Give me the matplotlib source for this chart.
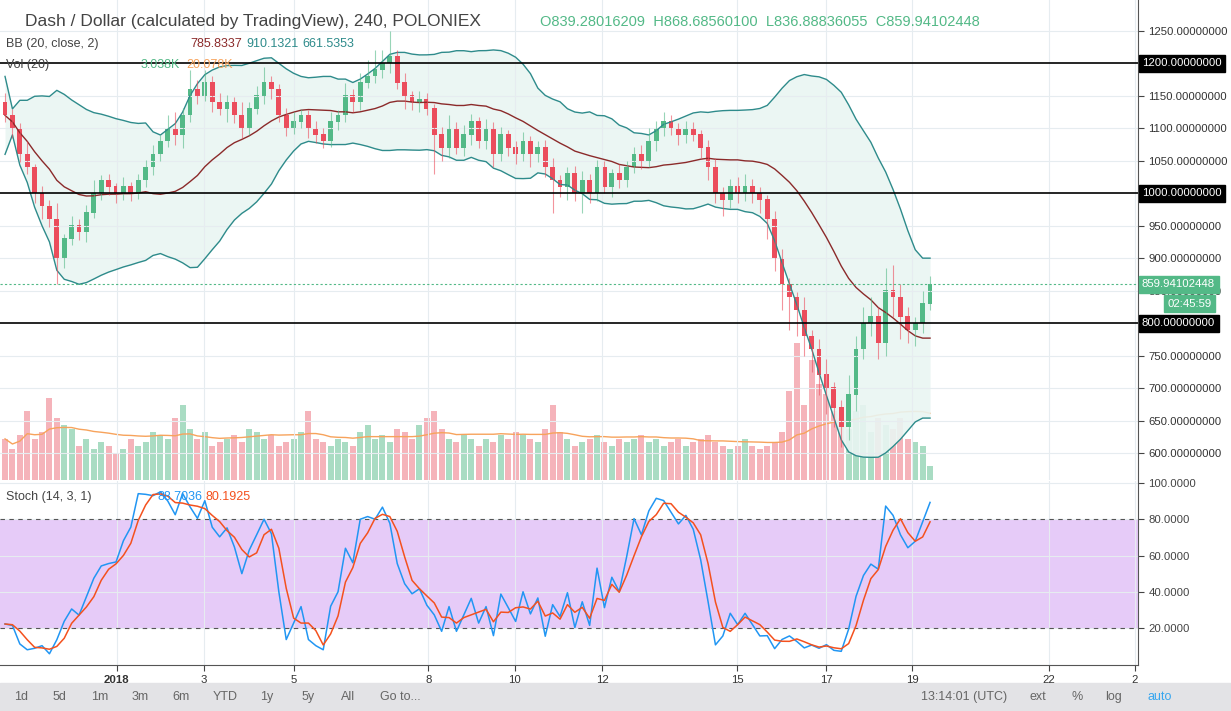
import numpy as np
import pandas as pd
import matplotlib.pyplot as plt

plt.rcParams['font.family'] = 'Liberation Sans'

# 4h closes, Dash / Dollar
closes = [1120, 1100, 1060, 1040, 1000, 980, 960, 900, 930, 950,
          940, 970, 1000, 1020, 1010, 1000, 1010, 1000, 1020, 1040,
          1060, 1080, 1100, 1090, 1120, 1160, 1150, 1170, 1140, 1130,
          1140, 1120, 1100, 1130, 1150, 1170, 1160, 1120, 1100, 1110,
          1120, 1100, 1090, 1080, 1110, 1120, 1150, 1140, 1170, 1180,
          1190, 1200, 1210, 1170, 1150, 1140, 1145, 1130, 1090, 1070,
          1100, 1070, 1090, 1110, 1080, 1100, 1060, 1090, 1070, 1060,
          1080, 1060, 1070, 1040, 1020, 1010, 1030, 1000, 1020, 1000,
          1040, 1010, 1030, 1020, 1040, 1060, 1050, 1080, 1100, 1110,
          1100, 1090, 1100, 1090, 1070, 1040, 1000, 990, 1010, 1000,
          1010, 1000, 990, 960, 900, 860, 840, 820, 780, 760,
          720, 700, 670, 640, 690, 760, 800, 810, 770, 850,
          840, 810, 790, 800, 830, 860]
open0 = 1140
wick_up = [15, 10, 8, 20, 5, 12, 10, 25, 8, 15, 10, 12, 20, 8, 10, 6, 15, 8, 10, 12,
           15, 10, 20, 25, 12, 30, 15, 20, 10, 15, 12, 8, 20, 10, 15, 25, 10, 8, 12, 15,
           10, 8, 12, 10, 15, 8, 20, 10, 15, 25, 30, 20, 40, 10, 15, 8, 12, 10, 8, 12,
           20, 10, 15, 12, 8, 15, 10, 12, 8, 10, 15, 8, 10, 12, 15, 8, 10, 12, 15, 10,
           12, 10, 8, 15, 10, 12, 15, 20, 12, 15, 10, 8, 12, 10, 8, 12, 15, 10, 12, 15,
           20, 12, 10, 8, 12, 15, 10, 8, 20, 10, 15, 25, 10, 12, 30, 20, 25, 30, 15, 35,
           40, 20, 15, 10, 20, 12]
wick_dn = [10, 15, 12, 10, 15, 20, 12, 40, 15, 10, 12, 15, 8, 10, 12, 15, 10, 12, 8, 10,
           12, 10, 8, 15, 20, 10, 12, 8, 15, 10, 20, 12, 15, 10, 8, 12, 15, 10, 12, 8,
           10, 15, 12, 10, 8, 12, 10, 15, 12, 8, 10, 12, 15, 10, 20, 12, 15, 10, 60, 20,
           15, 10, 12, 15, 10, 12, 20, 10, 12, 15, 10, 20, 12, 15, 50, 15, 20, 12, 30, 15,
           12, 10, 15, 12, 10, 8, 12, 10, 15, 12, 10, 15, 12, 10, 15, 20, 15, 25, 12, 15,
           12, 15, 20, 30, 20, 40, 50, 40, 30, 35, 30, 40, 30, 30, 20, 25, 15, 20, 25, 20,
           30, 35, 20, 25, 15, 10]
volume = [12, 9, 13, 20, 12, 14, 24, 18, 16, 15, 10, 12, 9, 11, 10, 8, 9, 12, 10, 11,
          14, 13, 12, 18, 22, 15, 12, 14, 10, 11, 12, 13, 11, 15, 14, 12, 13, 10, 11, 12,
          14, 20, 12, 11, 10, 12, 11, 10, 14, 16, 12, 13, 11, 15, 14, 12, 16, 18, 20, 15,
          12, 11, 13, 12, 10, 12, 11, 13, 12, 14, 13, 12, 11, 15, 22, 14, 12, 10, 11, 12,
          13, 11, 10, 12, 11, 12, 13, 11, 12, 10, 11, 12, 10, 11, 12, 13, 11, 10, 9, 10,
          12, 10, 9, 10, 11, 14, 26, 40, 22, 35, 28, 25, 20, 18, 15, 20, 22, 14, 18, 16,
          15, 18, 12, 11, 10, 4]
date_labels = ['2018', '3', '5', '8', '10', '12', '15', '17', '19', '22', '2']
date_pos = [15.1, 26.9, 39.0, 57.2, 68.9, 80.7, 98.9, 111.0, 122.6, 141.1, 152.7]
price_ticks = [600, 650, 700, 750, 850, 900, 950, 1050, 1100, 1150, 1250]
levels = [1200, 1000, 800]
toolbar_left = ['1d', '5d', '1m', '3m', '6m', 'YTD', '1y', '5y', 'All', 'Go to...']
toolbar_right = ['13:14:01 (UTC)', 'ext', '%', 'log', 'auto']

c = np.array(closes, float)
o = np.concatenate([[open0], c[:-1]])
h = np.maximum(o, c) + np.array(wick_up)
l = np.minimum(o, c) - np.array(wick_dn)
idx = np.arange(len(c))

s = pd.Series(c)
basis = s.rolling(20, min_periods=1).mean()
dev = s.rolling(20, min_periods=2).std(ddof=0).fillna(30)
upper, lower = basis + 2 * dev, basis - 2 * dev
vol_ma = pd.Series(volume).rolling(20, min_periods=1).mean()
hh = pd.Series(h).rolling(14, min_periods=1).max()
ll = pd.Series(l).rolling(14, min_periods=1).min()
k = 100 * (s - ll) / (hh - ll)
d = k.rolling(3, min_periods=1).mean()

GREEN, RED = '#53b987', '#eb4d5c'
W, H = 1231, 711
fig = plt.figure(figsize=(W / 100, H / 100), dpi=100)
fig.patch.set_facecolor('white')

def px(x0, y0, x1, y1):
    return [x0 / W, 1 - y1 / H, (x1 - x0) / W, (y1 - y0) / H]

x_lim = (-0.68, 153.1)
ax = fig.add_axes(px(0, 0, 1138, 480))
axv = ax.twinx()
ax.set_zorder(axv.get_zorder() + 1)
ax.patch.set_visible(False)
axv.set_ylim(0, 140)
axv.axis('off')
vcol = ['#a9dcc3' if c[i] >= o[i] else '#f5b3ba' for i in idx]
axv.bar(idx, volume, width=0.8, color=vcol)
axv.plot(idx, vol_ma, color='#f7a35c', lw=1)

ax.fill_between(idx, lower, upper, color='#e9f5f2', alpha=0.9, lw=0)
ax.plot(idx, upper, color='#2e8b8b', lw=1)
ax.plot(idx, lower, color='#2e8b8b', lw=1)
ax.plot(idx, basis, color='#8b2a2a', lw=1)
cols = [GREEN if c[i] >= o[i] else RED for i in idx]
ax.vlines(idx, l, h, colors=cols, lw=0.8, alpha=0.6)
ax.bar(idx, np.abs(c - o) + 1, bottom=np.minimum(o, c), width=0.65, color=cols)
for lv in levels:
    ax.axhline(lv, color='black', lw=1.2)
ax.axhline(c[-1], color=GREEN, lw=0.8, ls=(0, (2, 2)))
ax.set_xlim(*x_lim)
ax.set_ylim(558.5, 1297.7)
ax.set_yticks(price_ticks)
ax.set_xticks(date_pos)
ax.grid(color='#e6ecf0', lw=0.8)
ax.tick_params(left=False, bottom=False, labelbottom=False, labelleft=False,
               right=True, labelright=True, labelsize=8.2, colors='#444', length=4)
ax.set_yticklabels([f'{v:.8f}' for v in price_ticks])
for t in ax.get_yticklabels():
    t.set_color('#333')
ytr = ax.get_yaxis_transform()
for lv in levels:
    ax.text(1.0035, lv, f'{lv:.8f}', transform=ytr, va='center',
            ha='left', color='white', fontsize=8.2,
            bbox=dict(boxstyle='square,pad=0.3', fc='black', ec='black'))
ax.text(1.0035, c[-1], '859.94102448', transform=ytr, va='center',
        ha='left', color='white', fontsize=8.2,
        bbox=dict(boxstyle='square,pad=0.3', fc=GREEN, ec=GREEN))
ax.text(1.0255, 830, '02:45:59', transform=ytr, va='center',
        ha='left', color='white', fontsize=8.2,
        bbox=dict(boxstyle='square,pad=0.3', fc=GREEN, ec=GREEN))
for sp in ['top', 'left', 'bottom']:
    ax.spines[sp].set_visible(False)
ax.spines['right'].set_color('#555')

fig.text(25 / W, 1 - 26 / H, 'Dash / Dollar (calculated by TradingView), 240, POLONIEX',
         fontsize=12.5, color='#444')
fig.text(540 / W, 1 - 26 / H, 'O839.28016209  H868.68560100  L836.88836055  C859.94102448',
         fontsize=10.5, color=GREEN)
fig.text(6 / W, 1 - 47 / H, 'BB (20, close, 2)', fontsize=9, color='#444')
fig.text(190 / W, 1 - 47 / H, '785.8337', fontsize=9, color='#8b2a2a')
fig.text(246 / W, 1 - 47 / H, '910.1321', fontsize=9, color='#2e8b8b')
fig.text(302 / W, 1 - 47 / H, '661.5353', fontsize=9, color='#2e8b8b')
fig.text(6 / W, 1 - 68 / H, 'Vol (20)', fontsize=9, color='#444')
fig.text(141 / W, 1 - 68 / H, '3.038K', fontsize=9, color=GREEN)
fig.text(186 / W, 1 - 68 / H, '20.078K', fontsize=9, color='#f7a35c')

axs = fig.add_axes(px(0, 481, 1138, 665))
axs.axhspan(20, 80, color='#e6cbf8', lw=0)
axs.axhline(80, color='#555', lw=0.8, ls=(0, (4, 4)))
axs.axhline(20, color='#555', lw=0.8, ls=(0, (4, 4)))
axs.plot(idx, k, color='#2196f3', lw=1.1)
axs.plot(idx, d, color='#f4511e', lw=1.1)
axs.set_xlim(*x_lim)
axs.set_ylim(-0.4, 101.1)
axs.set_yticks([20, 40, 60, 80, 100])
axs.set_yticklabels([f'{v:.4f}' for v in [20, 40, 60, 80, 100]])
axs.set_xticks(date_pos)
axs.set_xticklabels(date_labels)
axs.grid(color='#e6ecf0', lw=0.8)
axs.tick_params(left=False, labelleft=False, right=True, labelright=True,
                labelsize=8.2, colors='#444', length=4)
for t in axs.get_xticklabels():
    t.set_color('#333')
axs.get_xticklabels()[0].set_fontweight('bold')
for sp in ['top', 'left']:
    axs.spines[sp].set_visible(False)
axs.spines['right'].set_color('#555')
axs.spines['bottom'].set_color('#555')
fig.text(6 / W, 1 - 500 / H, 'Stoch (14, 3, 1)', fontsize=9, color='#444')
fig.text(157 / W, 1 - 500 / H, '88.7036', fontsize=9, color='#2196f3')
fig.text(206 / W, 1 - 500 / H, '80.1925', fontsize=9, color='#f4511e')

# bottom toolbar
fig.add_artist(plt.Rectangle((0, 0), 1, 28 / H, transform=fig.transFigure,
                             color='#e3e3e6', zorder=-1))
for x, t in zip([21, 59, 100, 140, 181, 225, 267, 308, 348, 400], toolbar_left):
    fig.text(x / W, 1 - 697 / H, t, fontsize=9, color='#666', va='center', ha='center')
for x, t in zip([964, 1038, 1077, 1114, 1160], toolbar_right):
    col = '#37a6ef' if t == 'auto' else '#666'
    fig.text(x / W, 1 - 697 / H, t, fontsize=9, color=col, va='center', ha='center')

fig.savefig('out.png', dpi=100)
